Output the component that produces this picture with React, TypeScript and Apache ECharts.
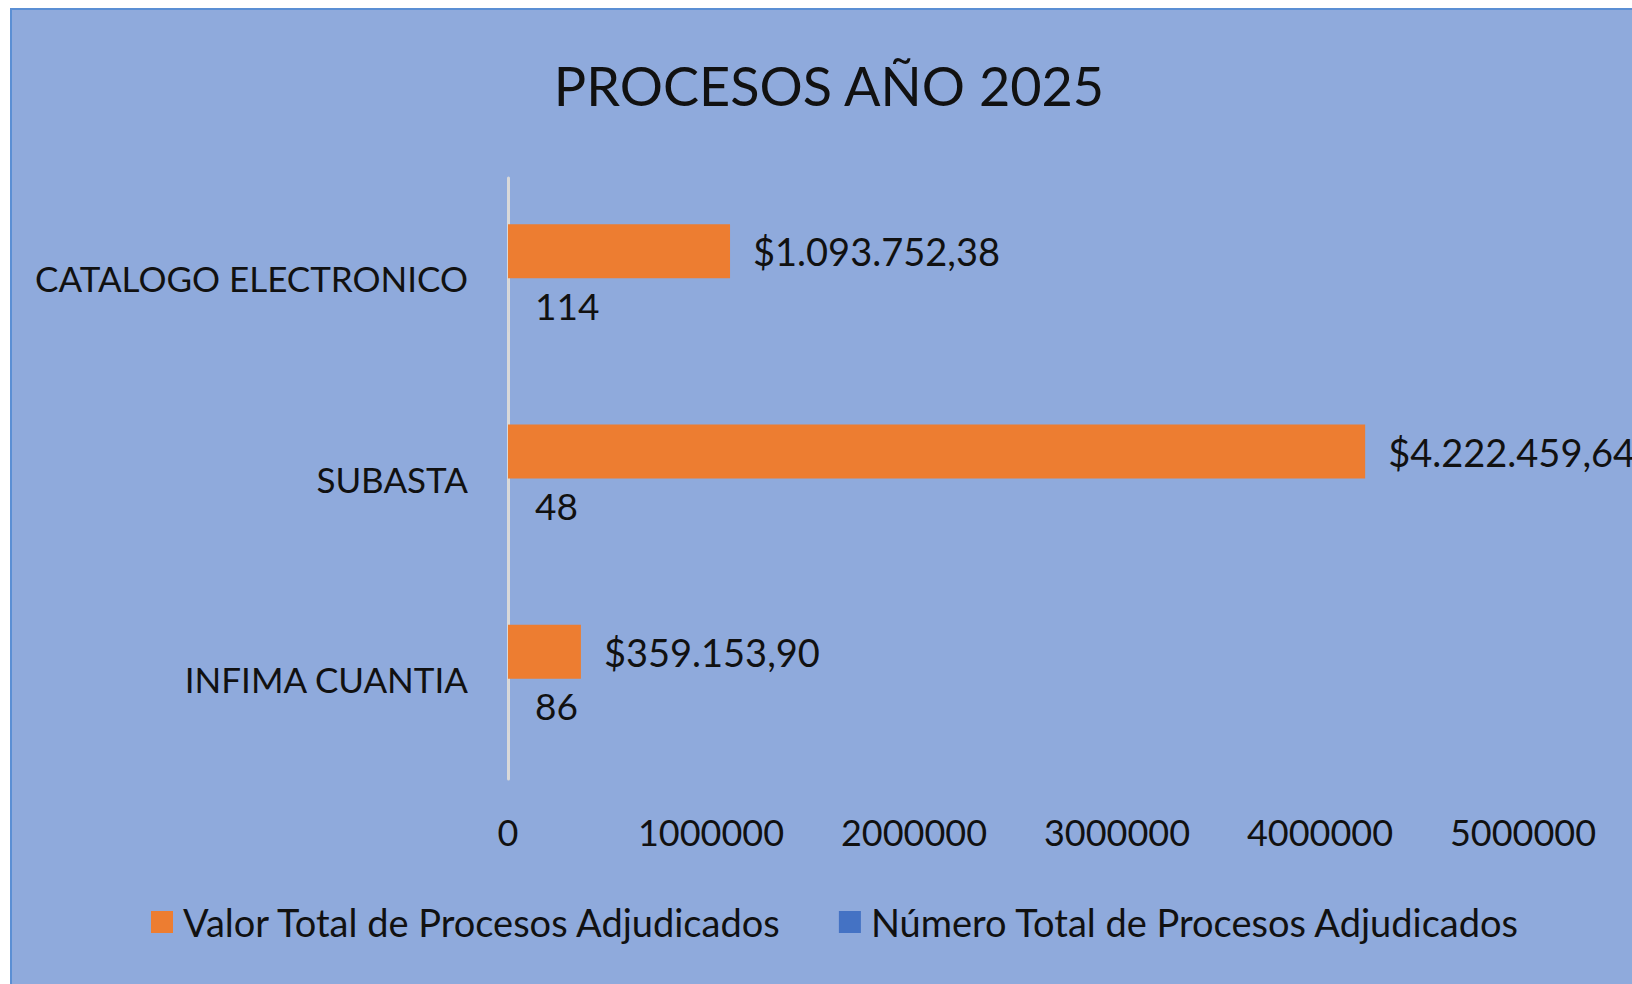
import React, { useEffect, useRef } from "react";
import * as echarts from "echarts";

const categories = ["INFIMA CUANTIA", "SUBASTA", "CATALOGO ELECTRONICO"];
const valorTotal = [359153.9, 4222459.64, 1093752.38];
const numeroTotal = [86, 48, 114];
const seriesNames = ["Valor Total de Procesos Adjudicados", "Número Total de Procesos Adjudicados"];
const xTicks = { min: 0, max: 5000000, interval: 1000000 };

const FONT = "Lato";
const TXT = "#111111";

function formatMoney(v: number): string {
  const fixed = v.toFixed(2);
  const [intPart, dec] = fixed.split(".");
  const grouped = intPart.replace(/\B(?=(\d{3})+(?!\d))/g, ".");
  return "$" + grouped + "," + dec;
}

export default function App() {
  const ref = useRef<HTMLDivElement>(null);
  useEffect(() => {
    if (!ref.current) return;
    const chart = echarts.init(ref.current, null, { renderer: "svg" });
    chart.setOption({
      animation: false,
      backgroundColor: "#ffffff",
      textStyle: { fontFamily: FONT },
      graphic: [
        {
          type: "rect",
          z: -10,
          silent: true,
          shape: { x: 11, y: 9, width: 1700, height: 1050 },
          style: { fill: "#8FAADC", stroke: "#5B8FD4", lineWidth: 2 },
        },
      ],
      title: {
        text: "PROCESOS AÑO 2025",
        left: 829,
        top: 85,
        padding: 0,
        textAlign: "center",
        textVerticalAlign: "middle",
        textStyle: { fontFamily: FONT, fontSize: 54, fontWeight: "normal", color: TXT },
      },
      legend: {
        left: 151,
        top: 903,
        padding: 0,
        itemWidth: 22,
        itemHeight: 22,
        itemGap: 56,
        icon: "rect",
        data: seriesNames,
        textStyle: { fontFamily: FONT, fontSize: 38, color: TXT, padding: [0, 0, 0, 5] },
      },
      grid: { left: 508, right: 109, top: 178, bottom: 205, containLabel: false },
      xAxis: {
        type: "value",
        min: xTicks.min,
        max: xTicks.max,
        interval: xTicks.interval,
        axisLine: { show: false },
        axisTick: { show: false },
        splitLine: { show: false },
        axisLabel: {
          margin: 35,
          fontFamily: FONT,
          fontSize: 36,
          color: TXT,
          formatter: (v: number) => String(v),
        },
      },
      yAxis: {
        type: "category",
        data: categories,
        axisLine: { show: true, lineStyle: { color: "#D9D9D9", width: 3 } },
        axisTick: { show: false },
        axisLabel: { margin: 40, fontFamily: FONT, fontSize: 35, color: TXT },
      },
      series: [
        {
          name: seriesNames[0],
          type: "bar",
          data: valorTotal,
          barWidth: 54,
          barGap: "0%",
          itemStyle: { color: "#ED7D31" },
          label: {
            show: true,
            position: "right",
            distance: 23,
            fontFamily: FONT,
            fontSize: 38,
            color: TXT,
            formatter: (p: any) => formatMoney(p.value),
          },
        },
        {
          name: seriesNames[1],
          type: "bar",
          data: numeroTotal,
          barWidth: 54,
          barGap: "0%",
          itemStyle: { color: "#4472C4" },
          label: {
            show: true,
            position: "right",
            distance: 27,
            fontFamily: FONT,
            fontSize: 37,
            color: TXT,
          },
        },
      ],
    });
    return () => chart.dispose();
  }, []);
  return (
    <div style={{ position: "absolute", left: 0, top: 0, width: 1632, height: 984, overflow: "hidden" }}>
      <div ref={ref} style={{ width: 1632, height: 984 }} />
    </div>
  );
}
